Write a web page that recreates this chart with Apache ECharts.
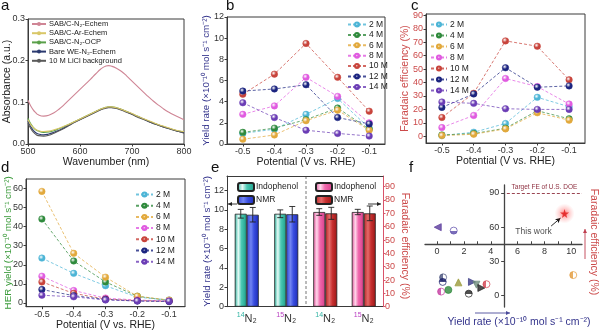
<!DOCTYPE html>
<html>
<head>
<meta charset="utf-8">
<script src="https://cdn.jsdelivr.net/npm/echarts@6/dist/echarts.min.js"></script>
<style>
html,body{margin:0;padding:0;background:#fff}
#chart{width:600px;height:330px}
</style>
</head>
<body>
<div id="chart"></div>
<script>
// ---------- (a) UV-vis absorbance spectra ----------
const wavelengths = [500,505,510,515,520,530,540,550,560,570,580,590,600,610,620,630,640,650,655,660,670,680,690,700,710,720,730,740,750,760,770,780,790,800];
const absN2Echem = [0.105,0.092,0.082,0.075,0.070,0.067,0.069,0.075,0.084,0.095,0.107,0.119,0.131,0.143,0.155,0.168,0.180,0.187,0.188,0.187,0.182,0.174,0.163,0.151,0.139,0.127,0.115,0.104,0.094,0.085,0.077,0.070,0.064,0.058];
const absArEchem = [0.058,0.047,0.040,0.035,0.032,0.030,0.031,0.034,0.038,0.043,0.048,0.054,0.060,0.066,0.072,0.078,0.084,0.088,0.089,0.089,0.087,0.083,0.078,0.073,0.067,0.062,0.057,0.052,0.047,0.043,0.039,0.035,0.032,0.030];
const absN2OCP = [0.062,0.049,0.040,0.034,0.031,0.028,0.029,0.032,0.037,0.042,0.048,0.054,0.060,0.066,0.072,0.078,0.084,0.088,0.089,0.089,0.087,0.083,0.078,0.072,0.067,0.061,0.056,0.051,0.046,0.042,0.038,0.034,0.031,0.029];
const absBareWE = [0.055,0.042,0.033,0.027,0.024,0.022,0.024,0.028,0.033,0.039,0.046,0.053,0.059,0.065,0.071,0.077,0.083,0.087,0.088,0.088,0.086,0.082,0.077,0.072,0.066,0.061,0.055,0.050,0.046,0.041,0.037,0.034,0.030,0.027];
const absLiCl = [0.050,0.038,0.029,0.023,0.020,0.019,0.021,0.026,0.032,0.038,0.045,0.052,0.058,0.064,0.070,0.076,0.082,0.086,0.087,0.087,0.085,0.081,0.076,0.071,0.065,0.060,0.055,0.050,0.045,0.041,0.037,0.033,0.030,0.026];
const spectraNames = ['SAB/C-N₂-Echem','SAB/C-Ar-Echem','SAB/C-N₂-OCP','Bare WE-N₂-Echem','10 M LiCl background'];

// ---------- (b)-(d) potential / concentration series ----------
const potentials = [-0.5,-0.4,-0.3,-0.2,-0.1];
const concLabels = ['2 M','4 M','6 M','8 M','10 M','12 M','14 M'];

// NH3 yield rate (x10^-10 mol s^-1 cm^-2)
const yield2M  = [1.0, 1.4, 2.8, 4.3, 1.5];
const yield4M  = [1.1, 1.5, 2.3, 3.4, 1.4];
const yield6M  = [0.45, 0.85, 2.2, 3.2, 1.3];
const yield8M  = [2.8, 3.6, 6.3, 4.5, 2.0];
const yield10M = [4.7, 6.6, 9.5, 6.3, 3.1];
const yield12M = [5.0, 5.2, 5.6, 2.5, 1.9];
const yield14M = [3.9, 2.5, 1.3, 1.0, 0.75];

// Faradaic efficiency (%)
const fe2M  = [0.5, 3, 9.5, 29, 22];
const fe4M  = [1, 2, 6, 19, 13];
const fe6M  = [0.5, 1.5, 5.5, 17.5, 12];
const fe8M  = [6.5, 15.5, 43, 37, 24];
const fe10M = [14, 32, 71, 67, 42];
const fe12M = [21.5, 31.5, 51, 36.5, 37.5];
const fe14M = [25.5, 24.5, 20.5, 20, 20];

// HER yield (x10^-10 mol s^-1 cm^-2)
const her2M  = [23.5, 15.5, 9, 3, 1.5];
const her4M  = [44, 22, 11, 3.5, 1.2];
const her6M  = [58.5, 26, 13.5, 3.5, 1.5];
const her8M  = [14, 6.5, 2.5, 1.5, 1.0];
const her10M = [11, 5, 2, 1.2, 0.8];
const her12M = [7, 3.8, 1.8, 1.0, 0.7];
const her14M = [4, 3.2, 1.5, 1.0, 0.9];

// ---------- (e) isotope labelling ----------
const isotopes = ['14','15'];
const indophenolYield = [9.6, 9.6];
const indophenolYieldErr = [0.45, 0.4];
const nmrYield = [9.5, 9.55];
const nmrYieldErr = [0.75, 0.8];
const indophenolFE = [71, 71];
const indophenolFEErr = [2.5, 2];
const nmrFE = [70, 70];
const nmrFEErr = [4.5, 5.5];

// ---------- (f) comparison with reported catalysts ----------
const litYield = [0.05, 1.24, 10.15, 0.45, 0.42, 0.3, 0.84, 1.59, 2.36, 2.6, 2.93, 3.3, 3.68];
const litFE    = [60, 57, 18, 16, 12, 3.5, 5, 11.6, 1.7, 12, 9.6, 6.7, 10];
const workYield = [9.5];
const workFE = [72];
const targetFE = 90;
const crossYield = 5;   // the FE axis crosses the yield axis here
const crossFE = 45;     // the yield axis crosses the FE axis here

// ---------- styles ----------
const FONT = 'Liberation Sans, Arial, sans-serif';
const AX = '#3a3a3a';
const concColors = ['#4db5d6','#2f8a3c','#e2a93c','#e05be0','#c8443c','#1c2580','#6b3db5'];
const spectraColors = ['#cf8595','#d9c768','#5aa04a','#2b3a70','#5a5a5a'];
const litSymbols = ['triangle','circle','circle','circle','circle','circle','circle','triangle','circle','triangle','triangle','triangle','circle'];
const litRotate  = [90,0,0,0,0,0,0,0,0,-90,180,-90,0];
const litFill    = ['full','bottom','left','left','top','left','full','full','top','full','full','full','left'];
const litColors  = ['#5a3a9c','#5a4aa8','#e39a3a','#46507a','#1b1f6a','#c43aa0','#2f8a3c','#9a9a3a','#222222','#3a3a86','#6e8c7a','#222222','#d2404e'];

function ball(c) {
  return {type:'radial', x:0.38, y:0.35, r:0.75,
    colorStops:[{offset:0,color:'#ffffff'},{offset:0.45,color:c},{offset:1,color:c}]};
}
function halfFill(c, mode) {
  if (mode === 'full') return c;
  const dir = {top:[0,0,0,1], bottom:[0,1,0,0], left:[0,0,1,0], right:[1,0,0,0]}[mode];
  return {type:'linear', x:dir[0], y:dir[1], x2:dir[2], y2:dir[3],
    colorStops:[{offset:0,color:c},{offset:0.5,color:c},{offset:0.5,color:'#fff'},{offset:1,color:'#fff'}]};
}
function hGrad(stops) {
  return {type:'linear', x:0, y:0, x2:1, y2:0, colorStops:stops.map(s=>({offset:s[0], color:s[1]}))};
}
const tealFill = hGrad([[0,'#26b39c'],[0.3,'#e6faf6'],[0.55,'#4cc9b4'],[1,'#1a9e88']]);
const blueFill = hGrad([[0,'#3144d6'],[0.35,'#7184f2'],[0.6,'#3a4ee0'],[1,'#1c2cb8']]);
const pinkFill = hGrad([[0,'#e2529b'],[0.3,'#ffd6ea'],[0.55,'#f06aae'],[1,'#d83c8a']]);
const redFill  = hGrad([[0,'#b82424'],[0.35,'#e46a6a'],[0.6,'#c83030'],[1,'#9a1616']]);

const lbl = (extra) => Object.assign({color:'#333', fontSize:9, fontFamily:FONT}, extra || {});
const nameStyle = (color, extra) => Object.assign({color, fontSize:10.5, fontFamily:FONT}, extra || {});

function plainGrid(left, top, width, height) {
  return {left, top, width, height, outerBoundsMode:'none', containLabel:false};
}
function boxGrid(left, top, width, height) {
  return Object.assign(plainGrid(left, top, width, height), {show:true, borderColor:AX, borderWidth:1});
}

function potentialAxis(gridIndex) {
  return {
    type:'value', gridIndex, min:-0.55, max:-0.05,
    name:'Potential (V vs. RHE)', nameLocation:'middle', nameGap:13, nameMoveOverlap:false,
    nameTextStyle:nameStyle('#222'),
    axisLine:{onZero:false, lineStyle:{color:AX}},
    axisTick:{customValues:potentials, length:2.5, lineStyle:{color:AX}},
    axisLabel:lbl({customValues:potentials, margin:3, formatter:v=>v.toFixed(1)}),
    splitLine:{show:false}
  };
}

function concSeries(sets, xIdx, yIdx) {
  return sets.map((vals, k) => ({
    type:'line', name:concLabels[k], xAxisIndex:xIdx, yAxisIndex:yIdx,
    data:potentials.map((p, i) => [p, vals[i]]),
    symbol:'circle', symbolSize:6.5,
    itemStyle:{color:ball(concColors[k]), borderColor:concColors[k], borderWidth:0.5},
    lineStyle:{color:concColors[k], width:0.9, type:[3,2], opacity:0.8},
    z:3
  }));
}

function concLegend(left, top, gap, width) {
  return {
    orient:'vertical', left, top, padding:0, data:concLabels, selectedMode:false,
    itemWidth:width, itemHeight:5, itemGap:gap,
    textStyle:{fontSize:8.5, color:'#222', fontFamily:FONT, padding:[0,0,0,-2]}
  };
}

// error bars drawn at a fixed horizontal shift from the category centre
function errorBars(xIdx, yIdx, values, errs, shift) {
  return {
    type:'custom', xAxisIndex:xIdx, yAxisIndex:yIdx, z:5, silent:true,
    data:values.map((v, i) => [i, v, errs[i]]),
    renderItem:(params, api) => {
      const i = api.value(0), v = api.value(1), e = api.value(2);
      const hi = api.coord([i, v + e]), lo = api.coord([i, v - e]);
      const x = hi[0] + shift, cap = 3;
      const st = {stroke:'#222', lineWidth:0.9};
      return {type:'group', children:[
        {type:'line', shape:{x1:x, y1:hi[1], x2:x, y2:lo[1]}, style:st},
        {type:'line', shape:{x1:x-cap, y1:hi[1], x2:x+cap, y2:hi[1]}, style:st},
        {type:'line', shape:{x1:x-cap, y1:lo[1], x2:x+cap, y2:lo[1]}, style:st}
      ]};
    }
  };
}

function arrow(x1, y1, x2, y2, color) {
  const a = Math.atan2(y2 - y1, x2 - x1), h = 4, w = 2;
  const p1 = [x2 - h*Math.cos(a) + w*Math.sin(a), y2 - h*Math.sin(a) - w*Math.cos(a)];
  const p2 = [x2 - h*Math.cos(a) - w*Math.sin(a), y2 - h*Math.sin(a) + w*Math.cos(a)];
  return {type:'group', children:[
    {type:'line', shape:{x1, y1, x2, y2}, style:{stroke:color, lineWidth:0.9}},
    {type:'polygon', shape:{points:[[x2,y2], p1, p2]}, style:{fill:color}}
  ]};
}
function panelLetter(text, x, y) {
  return {type:'text', x, y, style:{text, fontSize:15, fontFamily:FONT, fill:'#111', textVerticalAlign:'top'}};
}
function vText(text, x, y, color, rot) {
  return {type:'text', x, y, rotation:rot,
    style:{text, fontSize:10.5, fontFamily:FONT, fill:color, align:'center', verticalAlign:'middle'}};
}

const yieldName = 'Yield rate (×10⁻¹⁰ mol s⁻¹ cm⁻²)';
const navy = '#34348c';
const feRed = '#cc4a4a';

// (f) plot box and ranges; the two visible axes cross inside the box, so each
// one sits on the edge of its own carrier grid that shares the box's scale
const fBox = {left:425, top:185, width:157, height:122};
const fYieldRange = [-0.9, 10.8];
const fFERange = [-10, 97];
const fUpperHeight = (fFERange[1] - crossFE) / (fFERange[1] - fFERange[0]) * fBox.height;
const fLeftWidth = (crossYield - fYieldRange[0]) / (fYieldRange[1] - fYieldRange[0]) * fBox.width;

const eLabel = {
  margin:5, interval:0, formatter:v=>`{s${v}|${v}}{n|N₂}`,
  rich:{
    s14:{fontSize:7, color:'#2fb3a3', verticalAlign:'top', lineHeight:13, fontFamily:FONT},
    s15:{fontSize:7, color:'#b83cc0', verticalAlign:'top', lineHeight:13, fontFamily:FONT},
    n:{fontSize:11, color:'#333', verticalAlign:'bottom', lineHeight:13, fontFamily:FONT}
  }
};

const chart = echarts.init(document.getElementById('chart'), null, {renderer:'canvas'});

const option = {
  animation:false,
  backgroundColor:'#fff',
  textStyle:{fontFamily:FONT},
  grid:[
    boxGrid(28, 19, 156, 125),          // 0 a
    boxGrid(227, 17, 158, 127),         // 1 b
    boxGrid(426, 14, 159, 129),         // 2 c
    boxGrid(26, 179, 159, 127.7),       // 3 d
    plainGrid(227, 176, 79, 130.7),     // 4 e (yield half)
    plainGrid(306, 176, 77, 130.7),     // 5 e (FE half)
    plainGrid(fBox.left, fBox.top, fBox.width, fBox.height),      // 6 f points
    plainGrid(fBox.left, fBox.top, fBox.width, fUpperHeight),     // 7 f yield axis carrier
    plainGrid(fBox.left, fBox.top, fLeftWidth, fBox.height)       // 8 f FE axis carrier
  ],
  xAxis:[
    { // 0: a
      type:'value', gridIndex:0, min:500, max:800, interval:100,
      name:'Wavenumber (nm)', nameLocation:'middle', nameGap:13, nameMoveOverlap:false,
      nameTextStyle:nameStyle('#222'),
      axisLine:{onZero:false, lineStyle:{color:AX}},
      axisTick:{length:2.5, lineStyle:{color:AX}},
      axisLabel:lbl({margin:3}), splitLine:{show:false}
    },
    potentialAxis(1),   // 1: b
    potentialAxis(2),   // 2: c
    potentialAxis(3),   // 3: d
    { // 4: e bottom (yield half)
      type:'category', gridIndex:4, data:isotopes, position:'bottom',
      axisLine:{onZero:false, lineStyle:{color:AX}}, axisTick:{show:false}, axisLabel:eLabel
    },
    { // 5: e top (yield half)
      type:'category', gridIndex:4, data:isotopes, position:'top',
      axisLine:{onZero:false, lineStyle:{color:AX}}, axisTick:{show:false}, axisLabel:{show:false}
    },
    { // 6: e bottom (FE half)
      type:'category', gridIndex:5, data:isotopes, position:'bottom',
      axisLine:{onZero:false, lineStyle:{color:AX}}, axisTick:{show:false}, axisLabel:eLabel
    },
    { // 7: e top (FE half)
      type:'category', gridIndex:5, data:isotopes, position:'top',
      axisLine:{onZero:false, lineStyle:{color:AX}}, axisTick:{show:false}, axisLabel:{show:false}
    },
    { // 8: f points (hidden)
      type:'value', gridIndex:6, min:fYieldRange[0], max:fYieldRange[1], show:false
    },
    { // 9: f visible yield axis
      type:'value', gridIndex:7, min:fYieldRange[0], max:fYieldRange[1], position:'bottom',
      axisLine:{onZero:false, lineStyle:{color:'#444', width:1.3}},
      axisTick:{inside:true, length:3, customValues:[0,1,2,3,4,5,6,7,8,9,10], lineStyle:{color:'#444'}},
      axisLabel:lbl({customValues:[0,2,4,6,8,10], margin:3}),
      splitLine:{show:false}
    },
    { // 10: f FE carrier (hidden)
      type:'value', gridIndex:8, min:fYieldRange[0], max:crossYield, show:false
    }
  ],
  yAxis:[
    { // 0: a
      type:'value', gridIndex:0, min:0, max:0.3, interval:0.1,
      name:'Absorbance (a.u.)', nameLocation:'middle', nameGap:15, nameMoveOverlap:false,
      nameTextStyle:nameStyle('#222'),
      axisLine:{lineStyle:{color:AX}}, axisTick:{length:2.5, lineStyle:{color:AX}},
      axisLabel:lbl({margin:3, formatter:v=>v.toFixed(1)}), splitLine:{show:false}
    },
    { // 1: b
      type:'value', gridIndex:1, min:0, max:12, interval:2,
      name:yieldName, nameLocation:'middle', nameGap:16, nameMoveOverlap:false,
      nameTextStyle:nameStyle(navy, {fontSize:9.8}),
      axisLine:{lineStyle:{color:AX}}, axisTick:{length:2.5, lineStyle:{color:AX}},
      axisLabel:lbl({margin:3}), splitLine:{show:false}
    },
    { // 2: c
      type:'value', gridIndex:2, min:-5, max:91,
      name:'Faradaic efficiency (%)', nameLocation:'middle', nameGap:15, nameMoveOverlap:false,
      nameTextStyle:nameStyle(feRed),
      axisLine:{lineStyle:{color:AX}},
      axisTick:{length:2.5, customValues:[0,10,20,30,40,50,60,70,80,90], lineStyle:{color:AX}},
      axisLabel:lbl({margin:3, color:feRed, customValues:[0,10,20,30,40,50,60,70,80,90]}),
      splitLine:{show:false}
    },
    { // 3: d
      type:'value', gridIndex:3, min:-2, max:65,
      name:'HER yield (×10⁻¹⁰ mol s⁻¹ cm⁻²)', nameLocation:'middle', nameGap:13, nameMoveOverlap:false,
      nameTextStyle:nameStyle('#3a9a3a', {fontSize:9.8}),
      axisLine:{lineStyle:{color:AX}},
      axisTick:{length:2.5, customValues:[0,10,20,30,40,50,60], lineStyle:{color:AX}},
      axisLabel:lbl({margin:3, customValues:[0,10,20,30,40,50,60]}),
      splitLine:{show:false}
    },
    { // 4: e yield
      type:'value', gridIndex:4, min:0, max:13.5, position:'left',
      name:yieldName, nameLocation:'middle', nameGap:15, nameMoveOverlap:false,
      nameTextStyle:nameStyle(navy, {fontSize:9.8}),
      axisLine:{show:true, lineStyle:{color:AX}},
      axisTick:{show:true, length:2.5, customValues:[0,2,4,6,8,10,12], lineStyle:{color:AX}},
      axisLabel:lbl({margin:3, customValues:[0,2,4,6,8,10,12]}),
      splitLine:{show:false}
    },
    { // 5: e FE
      type:'value', gridIndex:5, min:0, max:98, position:'right',
      axisLine:{show:true, lineStyle:{color:'#d9536a'}},
      axisTick:{show:true, length:2.5, customValues:[0,10,20,30,40,50,60,70,80,90], lineStyle:{color:'#d9536a'}},
      axisLabel:lbl({margin:2, color:feRed, customValues:[0,10,20,30,40,50,60,70,80,90]}),
      splitLine:{show:false}
    },
    { // 6: f points (hidden)
      type:'value', gridIndex:6, min:fFERange[0], max:fFERange[1], show:false
    },
    { // 7: f yield carrier (hidden)
      type:'value', gridIndex:7, min:crossFE, max:fFERange[1], show:false
    },
    { // 8: f visible FE axis, on the right edge of its carrier, labels turned inward
      type:'value', gridIndex:8, min:fFERange[0], max:fFERange[1], position:'right',
      axisLine:{onZero:false, lineStyle:{color:'#444', width:1.3}},
      axisTick:{inside:true, length:3, customValues:[0,30,60,90], lineStyle:{color:'#444'}},
      axisLabel:lbl({inside:true, customValues:[0,30,60,90], margin:5}),
      splitLine:{show:false}
    }
  ],
  legend:[
    {
      orient:'vertical', left:31, top:20, padding:0, data:spectraNames, selectedMode:false,
      itemWidth:14, itemHeight:5, itemGap:1.2,
      textStyle:{fontSize:7.5, color:'#222', fontFamily:FONT, padding:[0,0,0,-2]}
    },
    concLegend(347, 20, 1.4, 18),
    concLegend(430, 20, 2, 16),
    concLegend(135, 190, 2.2, 17),
    {
      orient:'vertical', left:237, top:182, padding:0, data:['Indophenol','NMR'], selectedMode:false,
      itemWidth:16, itemHeight:8, itemGap:3, formatter:n=>n.trim(),
      textStyle:{fontSize:8.5, color:'#222', fontFamily:FONT, padding:[0,0,0,-3]}
    },
    {
      orient:'vertical', left:315, top:182, padding:0, data:['Indophenol ','NMR '], selectedMode:false,
      itemWidth:16, itemHeight:8, itemGap:3, formatter:n=>n.trim(),
      textStyle:{fontSize:8.5, color:'#222', fontFamily:FONT, padding:[0,0,0,-3]}
    }
  ],
  series:[
    // (a)
    ...[absN2Echem, absArEchem, absN2OCP, absBareWE, absLiCl].map((vals, k) => ({
      type:'line', name:spectraNames[k], xAxisIndex:0, yAxisIndex:0, smooth:true, symbol:'none',
      data:wavelengths.map((w, i) => [w, vals[i]]),
      lineStyle:{color:spectraColors[k], width:1.1}, itemStyle:{color:spectraColors[k]},
      z:2 + (k === 1 ? 1 : 0)
    })),
    // (b), (c), (d)
    ...concSeries([yield2M, yield4M, yield6M, yield8M, yield10M, yield12M, yield14M], 1, 1),
    ...concSeries([fe2M, fe4M, fe6M, fe8M, fe10M, fe12M, fe14M], 2, 2),
    ...concSeries([her2M, her4M, her6M, her8M, her10M, her12M, her14M], 3, 3),
    // (e) yield half
    {type:'bar', name:'Indophenol', xAxisIndex:4, yAxisIndex:4, data:indophenolYield,
      barWidth:12, barGap:'0%', itemStyle:{color:tealFill, borderColor:'#222', borderWidth:0.8}},
    {type:'bar', name:'NMR', xAxisIndex:4, yAxisIndex:4, data:nmrYield,
      barWidth:12, barGap:'0%', itemStyle:{color:blueFill, borderColor:'#222', borderWidth:0.8}},
    errorBars(4, 4, indophenolYield, indophenolYieldErr, -6),
    errorBars(4, 4, nmrYield, nmrYieldErr, 6),
    // (e) FE half
    {type:'bar', name:'Indophenol ', xAxisIndex:6, yAxisIndex:5, data:indophenolFE,
      barWidth:12, barGap:'0%', itemStyle:{color:pinkFill, borderColor:'#222', borderWidth:0.8}},
    {type:'bar', name:'NMR ', xAxisIndex:6, yAxisIndex:5, data:nmrFE,
      barWidth:12, barGap:'0%', itemStyle:{color:redFill, borderColor:'#222', borderWidth:0.8}},
    errorBars(6, 5, indophenolFE, indophenolFEErr, -6),
    errorBars(6, 5, nmrFE, nmrFEErr, 6),
    // (f) reported catalysts
    {
      type:'scatter', xAxisIndex:8, yAxisIndex:6, z:4,
      data:litYield.map((x, i) => ({
        value:[x, litFE[i]], symbol:litSymbols[i], symbolRotate:litRotate[i], symbolSize:7,
        itemStyle:{color:halfFill(litColors[i], litFill[i]), borderColor:litColors[i], borderWidth:0.9}
      })),
      markLine:{
        silent:true, symbol:'none',
        lineStyle:{type:[3,2], color:'#8e3040', width:0.9},
        label:{show:true, position:'insideMiddleTop', distance:2, formatter:'Target FE of U.S. DOE',
          fontSize:6.5, color:'#8e3040', fontFamily:FONT},
        data:[[{coord:[crossYield + 0.2, targetFE]}, {coord:[fYieldRange[1], targetFE]}]]
      }
    },
    // (f) this work: glow, star, label and pointer
    {
      type:'scatter', xAxisIndex:8, yAxisIndex:6, z:5, symbol:'circle', symbolSize:20,
      data:workYield.map((x, i) => [x, workFE[i]]),
      itemStyle:{color:{type:'radial', x:0.5, y:0.5, r:0.5,
        colorStops:[{offset:0,color:'rgba(255,40,40,0.75)'},{offset:0.5,color:'rgba(255,80,80,0.35)'},{offset:1,color:'rgba(255,120,120,0)'}]}}
    },
    {
      type:'scatter', xAxisIndex:8, yAxisIndex:6, z:6,
      symbol:'path://M50,0 L61,35 L98,35 L68,57 L79,91 L50,70 L21,91 L32,57 L2,35 L39,35 Z',
      symbolSize:9,
      data:workYield.map((x, i) => [x, workFE[i]]),
      itemStyle:{color:'#e01818'},
      label:{show:true, formatter:'This work', position:'inside', offset:[-31, 18],
        fontSize:8.5, color:'#222', fontFamily:FONT},
      markLine:{
        silent:true, symbol:['none','arrow'], symbolSize:[4,5],
        lineStyle:{type:'solid', color:'#111', width:0.9}, label:{show:false},
        data:[[{coord:[8.5, 61]}, {coord:[9.2, 68]}]]
      }
    }
  ],
  graphic:[
    panelLetter('a', 1, -2),
    panelLetter('b', 226, -2),
    panelLetter('c', 411, -2),
    panelLetter('d', 1, 160),
    panelLetter('e', 211, 160),
    panelLetter('f', 409, 160),
    // divider between the two halves of (e)
    {type:'line', shape:{x1:306, y1:176, x2:306, y2:306.7}, style:{stroke:'#666', lineWidth:0.9, lineDash:[3,2]}},
    arrow(237, 204, 228, 204, '#222'),
    arrow(368, 204, 381, 204, '#222'),
    vText('Faradaic efficiency (%)', 405, 246, feRed, -Math.PI/2),
    // (f) titles and direction arrows
    vText('Faradaic efficiency (%)', 594, 242, feRed, -Math.PI/2),
    arrow(585, 259, 585, 229, '#c04050'),
    {type:'text', x:519, y:322, style:{text:yieldName, fontSize:10.5, fontFamily:FONT, fill:navy, align:'center', verticalAlign:'middle'}},
    arrow(475, 313, 510, 313, '#4a4a9a')
  ]
};
chart.setOption(option);
</script>
</body>
</html>
